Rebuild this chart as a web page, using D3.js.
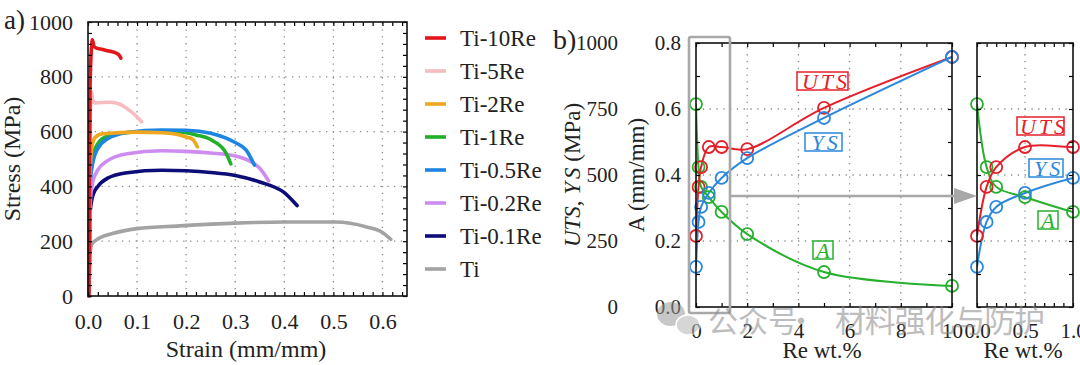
<!DOCTYPE html>
<html>
<head>
<meta charset="utf-8">
<script src="https://cdn.jsdelivr.net/npm/d3@7"></script>
<style>
  body { margin: 0; background: #fff; }
  svg { display: block; }
</style>
</head>
<body>
<svg width="1080" height="365"></svg>
<script>
// ---------------- DATA: panel a (strain, stress MPa) ----------------
const alloyNames = ['Ti-10Re', 'Ti-5Re', 'Ti-2Re', 'Ti-1Re', 'Ti-0.5Re', 'Ti-0.2Re', 'Ti-0.1Re', 'Ti'];
const alloyColors = ['#e3161c', '#f6bcc0', '#f0a720', '#22b02a', '#1e86e2', '#cf8cf0', '#0d0d78', '#a3a3a3'];

const curveTi10Re = [[0.002, 0], [0.004, 750], [0.007, 905], [0.009, 935], [0.012, 912], [0.017, 905],
  [0.03, 900], [0.045, 893], [0.058, 886], [0.063, 880], [0.067, 868]];
const curveTi5Re = [[0.002, 0], [0.004, 600], [0.007, 745], [0.010, 715], [0.014, 705], [0.045, 707],
  [0.065, 700], [0.075, 690], [0.092, 667], [0.102, 650], [0.109, 636]];
const curveTi2Re = [[0.002, 0], [0.004, 450], [0.008, 545], [0.014, 578], [0.03, 592], [0.1, 598],
  [0.15, 596], [0.18, 590], [0.2, 580], [0.213, 572], [0.223, 544]];
const curveTi1Re = [[0.002, 0], [0.004, 430], [0.01, 515], [0.02, 556], [0.04, 584], [0.08, 597],
  [0.12, 600], [0.187, 599], [0.22, 588], [0.254, 567], [0.281, 522], [0.291, 482]];
const curveTi05Re = [[0.002, 0], [0.004, 400], [0.01, 488], [0.02, 538], [0.04, 574], [0.08, 597],
  [0.15, 606], [0.2, 605], [0.25, 594], [0.3, 560], [0.322, 533], [0.339, 478]];
const curveTi02Re = [[0.002, 0], [0.004, 330], [0.01, 418], [0.02, 460], [0.04, 494], [0.08, 519],
  [0.15, 530], [0.2, 528], [0.25, 522], [0.3, 511], [0.33, 492], [0.35, 466], [0.368, 420]];
const curveTi01Re = [[0.002, 0], [0.004, 300], [0.01, 368], [0.02, 400], [0.04, 430], [0.08, 450],
  [0.15, 459], [0.2, 457], [0.25, 451], [0.3, 440], [0.35, 416], [0.4, 377], [0.426, 330]];
const curveTi = [[0.002, 0], [0.004, 150], [0.008, 190], [0.02, 208], [0.05, 228], [0.1, 246],
  [0.187, 256], [0.3, 266], [0.4, 270], [0.505, 270], [0.566, 253], [0.6, 232], [0.617, 207]];

const alloyCurves = [curveTi10Re, curveTi5Re, curveTi2Re, curveTi1Re, curveTi05Re, curveTi02Re, curveTi01Re, curveTi];
const drawOrder = [7, 6, 5, 3, 4, 2, 1, 0];

const stressTicks = [0, 200, 400, 600, 800, 1000];
const strainTicks = [0.0, 0.1, 0.2, 0.3, 0.4, 0.5, 0.6];

// ---------------- DATA: panel b ----------------
const reWt = [0, 0.1, 0.2, 0.5, 1, 2, 5, 10];
const utsMPa = [269, 455, 530, 606, 606, 598, 754, 947];
const ysMPa = [152, 322, 379, 432, 489, 564, 716, 947];
const elongA = [0.615, 0.424, 0.364, 0.333, 0.288, 0.221, 0.106, 0.064];

const strengthTicks = [0, 250, 500, 750, 1000];
const elongTicks = [0.0, 0.2, 0.4, 0.6, 0.8];
const reTicks = [0, 2, 4, 6, 8, 10];
const insetReTicks = [0.0, 0.5, 1.0];

const cRed = '#e5202a', cBlue = '#2a88de', cGreen = '#26b02c';

// ---------------------------------------------------------------
const svg = d3.select('svg');
const SERIF = '"Liberation Serif"';
const CJK = '"Noto Sans CJK SC"';

function txt(g, size) {
  return g.append('text').style('font-family', SERIF).attr('font-size', size).attr('fill', '#222');
}

function dottedGrid(g, x, y, xv, yv) {
  const [ya, yb] = y.range(), [xa, xb] = x.range();
  g.append('g').selectAll('line').data(xv).join('line')
    .attr('x1', d => x(d)).attr('x2', d => x(d)).attr('y1', ya).attr('y2', yb);
  g.append('g').selectAll('line').data(yv).join('line')
    .attr('y1', d => y(d)).attr('y2', d => y(d)).attr('x1', xa).attr('x2', xb);
  g.selectAll('line').attr('stroke', '#8a8a8a').attr('stroke-width', 1.3)
    .attr('stroke-dasharray', '1.3,5.5');
}

function inwardTicks(g, x, y, xt, yt, len) {
  const [xa, xb] = x.range(), [ya, yb] = y.range();
  const clean = s => { s.select('.domain').remove(); s.selectAll('line').attr('stroke-width', 1.2); };
  g.append('g').attr('transform', `translate(0,${ya})`)
    .call(d3.axisBottom(x).tickValues(xt).tickSize(-len).tickFormat('')).call(clean);
  g.append('g').attr('transform', `translate(0,${yb})`)
    .call(d3.axisTop(x).tickValues(xt).tickSize(-len).tickFormat('')).call(clean);
  g.append('g').attr('transform', `translate(${xa},0)`)
    .call(d3.axisLeft(y).tickValues(yt).tickSize(-len).tickFormat('')).call(clean);
  g.append('g').attr('transform', `translate(${xb},0)`)
    .call(d3.axisRight(y).tickValues(yt).tickSize(-len).tickFormat('')).call(clean);
}

function frame(g, x, y) {
  const [xa, xb] = x.range(), [ya, yb] = y.range();
  g.append('rect').attr('x', xa).attr('y', yb).attr('width', xb - xa).attr('height', ya - yb)
    .attr('fill', 'none').attr('stroke', '#111').attr('stroke-width', 1.6);
}

function labelAxis(sel, size) {
  sel.select('.domain').remove();
  sel.attr('font-family', null).attr('font-size', size);
  sel.selectAll('text').style('font-family', SERIF).attr('fill', '#222');
}

//------------------- PANEL A -------------------------
const ax = d3.scaleLinear().domain([0, 0.65]).range([88, 407]);
const ay = d3.scaleLinear().domain([0, 1000]).range([296, 22]);
const pa = svg.append('g');

dottedGrid(pa.append('g'), ax, ay, strainTicks.slice(1), stressTicks.slice(1, -1));

const line = d3.line().x(d => ax(d[0])).y(d => ay(d[1])).curve(d3.curveMonotoneX);
drawOrder.forEach(i => {
  pa.append('path').datum(alloyCurves[i])
    .attr('fill', 'none').attr('stroke', alloyColors[i]).attr('stroke-width', 3.6)
    .attr('stroke-linejoin', 'round').attr('stroke-linecap', 'round')
    .attr('d', line);
});

inwardTicks(pa, ax, ay, d3.range(0, 0.65, 0.02), d3.range(0, 1001, 40), 4);
frame(pa, ax, ay);

pa.append('g').attr('transform', 'translate(0,296)')
  .call(d3.axisBottom(ax).tickValues(strainTicks).tickSize(0).tickPadding(17).tickFormat(d3.format('.1f')))
  .call(s => labelAxis(s, 22));
pa.append('g').attr('transform', 'translate(88,0)')
  .call(d3.axisLeft(ay).tickValues(stressTicks).tickSize(0).tickPadding(15).tickFormat(d3.format('d')))
  .call(s => labelAxis(s, 22));

txt(pa, 24).attr('transform', 'translate(20,159) rotate(-90)')
  .attr('text-anchor', 'middle').text('Stress (MPa)');
txt(pa, 24).attr('x', 246).attr('y', 357)
  .attr('text-anchor', 'middle').text('Strain (mm/mm)');
txt(pa, 27).attr('x', 4).attr('y', 29).text('a)');

// legend
const leg = svg.append('g').attr('transform', 'translate(425,38)');
const legRow = leg.selectAll('g').data(alloyNames).join('g')
  .attr('transform', (d, i) => `translate(0,${i * 33})`);
legRow.append('line').attr('x1', 0).attr('x2', 21)
  .attr('stroke', (d, i) => alloyColors[i]).attr('stroke-width', 3.6);
legRow.append('text').attr('x', 35).attr('dy', '0.35em')
  .style('font-family', SERIF).attr('font-size', 23)
  .attr('fill', '#222').text(d => d);

//------------------- PANEL B -------------------------
const bx = d3.scaleLinear().domain([0, 10]).range([696, 952]);
const byA = d3.scaleLinear().domain([0, 0.8]).range([307, 43]);
const byS = d3.scaleLinear().domain([0, 1000]).range([307, 43]);
const ix = d3.scaleLinear().domain([0, 1]).range([977, 1073]);

const pb = svg.append('g');

function propertyPlot(g, x, clipId, keep) {
  dottedGrid(g.append('g'), x, byA,
    x === bx ? reTicks.slice(1, -1) : [0.5], elongTicks.slice(1, -1));
  const [xa, xb] = x.range();
  g.append('clipPath').attr('id', clipId).append('rect')
    .attr('x', xa).attr('y', 43).attr('width', xb - xa).attr('height', 264);

  const sets = [
    {vals: elongA, y: v => byA(v), color: cGreen},
    {vals: utsMPa, y: v => byS(v), color: cRed},
    {vals: ysMPa, y: v => byS(v), color: cBlue}
  ];
  sets.forEach(s => {
    const pts = reWt.map((r, i) => [r, s.vals[i]]);
    g.append('path').datum(pts)
      .attr('clip-path', `url(#${clipId})`)
      .attr('fill', 'none').attr('stroke', s.color).attr('stroke-width', 2)
      .attr('d', d3.line().x(d => x(d[0])).y(d => s.y(d[1])).curve(d3.curveCatmullRom.alpha(0.5)));
  });
  sets.forEach(s => {
    const pts = reWt.map((r, i) => [r, s.vals[i]]).filter(d => keep(d[0]));
    g.append('g').selectAll('circle').data(pts).join('circle')
      .attr('cx', d => x(d[0])).attr('cy', d => s.y(d[1])).attr('r', 6)
      .attr('fill', 'none').attr('stroke', s.color).attr('stroke-width', 1.8);
  });
}

// main
const pm = pb.append('g');
propertyPlot(pm, bx, 'clipMain', () => true);
inwardTicks(pm, bx, byA, d3.range(0, 10.01, 1), d3.range(0, 0.81, 0.1), 4);
frame(pm, bx, byA);

pm.append('g').attr('transform', 'translate(0,307)')
  .call(d3.axisBottom(bx).tickValues(reTicks).tickSize(0).tickPadding(16))
  .call(s => labelAxis(s, 21));
pm.append('g').attr('transform', 'translate(696,0)')
  .call(d3.axisLeft(byA).tickValues(elongTicks).tickSize(0).tickPadding(15).tickFormat(d3.format('.1f')))
  .call(s => labelAxis(s, 21));
pm.append('g').attr('transform', 'translate(696,0)')
  .call(d3.axisLeft(byS).tickValues(strengthTicks).tickSize(0).tickPadding(78).tickFormat(d3.format('d')))
  .call(s => labelAxis(s, 21));

// inset
const pi = pb.append('g');
propertyPlot(pi, ix, 'clipInset', r => r <= 1);
inwardTicks(pi, ix, byA, d3.range(0, 1.001, 0.1), d3.range(0, 0.81, 0.1), 4);
frame(pi, ix, byA);
pi.append('g').attr('transform', 'translate(0,307)')
  .call(d3.axisBottom(ix).tickValues(insetReTicks).tickSize(0).tickPadding(16).tickFormat(d3.format('.1f')))
  .call(s => labelAxis(s, 21));

// zoom indicator and arrow
pb.append('rect').attr('x', 689).attr('y', 37).attr('width', 41).attr('height', 276).attr('rx', 2)
  .attr('fill', 'none').attr('stroke', '#a8a8a8').attr('stroke-width', 2.6);
pb.append('line').attr('x1', 730).attr('x2', 956).attr('y1', 196).attr('y2', 196)
  .attr('stroke', '#a8a8a8').attr('stroke-width', 2.6);
pb.append('path').attr('d', 'M954,188L977,196L954,204Z').attr('fill', '#a8a8a8');

// tag boxes (math-italic letters spaced with dx)
function tag(g, x0, y0, w, h, label, color) {
  g.append('rect').attr('x', x0).attr('y', y0).attr('width', w).attr('height', h)
    .attr('fill', '#fff').attr('stroke', color).attr('stroke-width', 1.5);
  const t = txt(g, 22).attr('x', x0 + w / 2 + label.length - 1).attr('y', y0 + h / 2).attr('dy', '0.36em')
    .attr('text-anchor', 'middle').style('font-style', 'italic').attr('fill', color);
  label.split('').forEach((c, i) => t.append('tspan').attr('dx', i ? 3 : 0).text(c));
}
tag(pb, 797, 72, 51, 18, 'UTS', cRed);
tag(pb, 805, 133, 37, 18, 'YS', cBlue);
tag(pb, 813, 241, 20, 18, 'A', cGreen);
tag(pb, 1017, 117, 47, 18, 'UTS', cRed);
tag(pb, 1029, 159, 34, 18, 'YS', cBlue);
tag(pb, 1038, 211, 20, 18, 'A', cGreen);

// axis titles
const t1 = txt(pb, 23).attr('transform', 'translate(580,175) rotate(-90)')
  .attr('text-anchor', 'middle');
t1.append('tspan').style('font-style', 'italic').text('UTS');
t1.append('tspan').text(', ');
t1.append('tspan').style('font-style', 'italic').text('Y');
t1.append('tspan').attr('dx', 3).style('font-style', 'italic').text('S');
t1.append('tspan').text(' (MPa)');
txt(pb, 23).attr('transform', 'translate(644,175) rotate(-90)')
  .attr('text-anchor', 'middle').text('A (mm/mm)');
txt(pb, 23).attr('x', 822).attr('y', 358).attr('text-anchor', 'middle').text('Re wt.%');
txt(pb, 23).attr('x', 1023).attr('y', 358).attr('text-anchor', 'middle').text('Re wt.%');
txt(pb, 28).attr('x', 553).attr('y', 49).text('b)');

// watermark
const wm = svg.append('g').attr('opacity', 0.55);
wm.append('ellipse').attr('cx', 671).attr('cy', 314).attr('rx', 14).attr('ry', 12).attr('fill', '#9a9a9a');
wm.append('ellipse').attr('cx', 688).attr('cy', 325).attr('rx', 12).attr('ry', 10).attr('fill', '#b5b5b5')
  .attr('stroke', '#fff').attr('stroke-width', 1.5);
wm.append('text').style('font-family', CJK).attr('x', 708).attr('y', 332)
  .attr('font-size', 30).attr('fill', '#888').text('公众号');
wm.append('text').style('font-family', CJK).attr('x', 801).attr('y', 332).attr('text-anchor', 'middle')
  .attr('font-size', 30).attr('fill', '#888').text('·');
wm.append('text').style('font-family', CJK).attr('x', 835).attr('y', 332).attr('textLength', 210)
  .attr('font-size', 31).attr('fill', '#888').text('材料强化与防护');
</script>
</body>
</html>
